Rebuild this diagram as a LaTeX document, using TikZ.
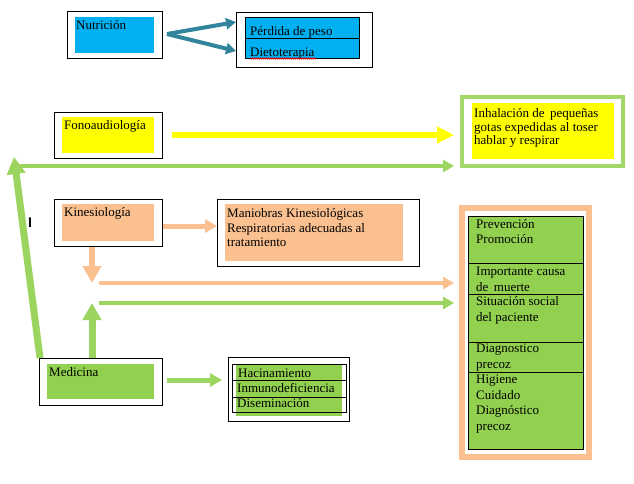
\documentclass[tikz,border=0pt]{standalone}
\usepackage{fontspec}
\setmainfont{Liberation Serif}
\newfontfamily\marksans{Liberation Sans}
\usetikzlibrary{arrows.meta,decorations.pathmorphing}
\definecolor{cyanf}{HTML}{00B0F0}
\definecolor{teal2}{HTML}{31849B}
\definecolor{grn}{HTML}{92D050}
\definecolor{grnl}{HTML}{9BD45E}
\definecolor{peach}{HTML}{FAC090}
\definecolor{yel}{HTML}{FFFF00}
\tikzset{
  outerbox/.style={draw=black, line width=0.9pt, fill=white, inner sep=0, anchor=north west},
  fillbox/.style={inner sep=0, anchor=north west, draw=none},
  txt/.style={anchor=base west, inner sep=0, font=\fontsize{13}{15.5}\selectfont},
  cell/.style={draw=black, line width=0.8pt, inner sep=0, anchor=north west},
}
\begin{document}
\begin{tikzpicture}[x=1pt,y=-1pt]
\useasboundingbox (0,0) rectangle (634,483);
\fill[white] (0,0) rectangle (634,483);

% ---------- Nutricion ----------
\node[outerbox, minimum width=95pt, minimum height=47pt] (nutO) at (67,11) {};
\node[fillbox, fill=cyanf, minimum width=79pt, minimum height=36pt] (nutF) at (75,17) {};
\node[txt] (nutT) at (76,29) {Nutrición};

\node[outerbox, minimum width=136pt, minimum height=55pt] (nrO) at (236,12) {};
\node[cell, fill=cyanf, minimum width=114pt, minimum height=21pt] (perd) at (245,17) {};
\node[cell, fill=cyanf, minimum width=114pt, minimum height=20pt] (diet) at (245,38) {};
\node[txt] (perdT) at (250,35) {Pérdida de peso};
\node[txt] (dietT) at (250,56) {Dietoterapia};
\coordinate (wavS) at (250,58.5);
\coordinate (wavE) at (316,58.5);
\draw[red, line width=0.5pt, decorate, decoration={zigzag, segment length=2pt, amplitude=0.7pt}] (wavS) -- (wavE);

\coordinate (nutS) at (167,34);
\coordinate (perdE) at (236,22);
\coordinate (dietE) at (236,51);
\draw[teal2, line width=4pt, -{Triangle[length=10pt,width=11pt]}] (nutS) -- (perdE);
\draw[teal2, line width=4pt, -{Triangle[length=10pt,width=11pt]}] (nutS) -- (dietE);

% ---------- Fonoaudiologia ----------
\node[outerbox, minimum width=108pt, minimum height=46pt] (fonO) at (54,112) {};
\node[fillbox, fill=yel, minimum width=92pt, minimum height=36pt] (fonF) at (62,117) {};
\node[txt] (fonT) at (64,129) {Fonoaudiología};

% ---------- Inhalacion box ----------
\draw[grn!85!white, line width=4pt] (462,97) rectangle (623,166);
\node[fillbox, fill=yel, minimum width=142pt, minimum height=56pt] (inhF) at (472,103) {};
\node[txt] (inh1) at (474,117) {Inhalación de\, pequeñas};
\node[txt] (inh2) at (474,131) {gotas expedidas al toser};
\node[txt] (inh3) at (474,144) {hablar y respirar};
\coordinate (inhW) at (454,135);
\coordinate (inhW2) at (454,166);

\coordinate (fonS) at (172,135);
\draw[yel, line width=6pt, -{Triangle[length=17pt,width=16pt]}] (fonS) -- (inhW);
\coordinate (grnS) at (15,166);
\draw[grnl, line width=4pt, -{Triangle[length=11pt,width=12pt]}] (grnS) -- (inhW2);

% ---------- Kinesiologia ----------
\node[outerbox, minimum width=108pt, minimum height=47pt] (kinO) at (54,199) {};
\node[fillbox, fill=peach, minimum width=92pt, minimum height=37pt] (kinF) at (62,204) {};
\node[txt] (kinT) at (64,216) {Kinesiología};

\node[outerbox, minimum width=202pt, minimum height=67pt] (manO) at (217,199) {};
\node[fillbox, fill=peach, minimum width=178pt, minimum height=57pt] (manF) at (225,204) {};
\node[txt] (man1) at (227,217) {Maniobras Kinesiológicas};
\node[txt] (man2) at (227,232) {Respiratorias adecuadas al};
\node[txt] (man3) at (227,246) {tratamiento};

\draw[peach, line width=5pt, -{Triangle[length=12pt,width=13pt]}] (kinO.east |- 0,226) -- (manO.west |- 0,226);
\coordinate (kinD) at (92,283);
\draw[peach, line width=6pt, -{Triangle[length=17pt,width=18pt]}] (kinO.south -| kinD) -- (kinD);

% stray mark
\node[anchor=base west, inner sep=0, font=\marksans\bfseries\fontsize{14}{16}\selectfont] (imark) at (28,227) {I};

% ---------- right big box ----------
\draw[peach, line width=6pt] (462,208) rectangle (589,457);
\node[cell, fill=grn, minimum width=115pt, minimum height=47pt] (r1) at (468,216) {};
\node[cell, fill=grn, minimum width=115pt, minimum height=31pt] (r2) at (468,263) {};
\node[cell, fill=grn, minimum width=115pt, minimum height=48pt] (r3) at (468,294) {};
\node[cell, fill=grn, minimum width=115pt, minimum height=30pt] (r4) at (468,342) {};
\node[cell, fill=grn, minimum width=115pt, minimum height=77pt] (r5) at (468,372) {};
\node[txt] (t1) at (476,228) {Prevención};
\node[txt] (t2) at (476,243) {Promoción};
\node[txt] (t3) at (476,275) {Importante causa};
\node[txt] (t4) at (476,291) {de\, muerte};
\node[txt] (t5) at (476,305) {Situación social};
\node[txt] (t6) at (476,321) {del paciente};
\node[txt] (t7) at (476,352) {Diagnostico};
\node[txt] (t8) at (476,368) {precoz};
\node[txt] (t9) at (476,383) {Higiene};
\node[txt] (t10) at (476,399) {Cuidado};
\node[txt] (t11) at (476,414) {Diagnóstico};
\node[txt] (t12) at (476,430) {precoz};

\coordinate (pkS) at (99,283);
\coordinate (pkE) at (454,283);
\draw[peach, line width=4pt, -{Triangle[length=11pt,width=12pt]}] (pkS) -- (pkE);
\coordinate (gmS) at (99,303);
\coordinate (gmE) at (454,303);
\draw[grnl, line width=4pt, -{Triangle[length=11pt,width=12pt]}] (gmS) -- (gmE);

% ---------- Medicina ----------
\node[outerbox, minimum width=123pt, minimum height=47pt] (medO) at (39,358) {};
\node[fillbox, fill=grn, minimum width=107pt, minimum height=35pt] (medF) at (47,364) {};
\node[txt] (medT) at (49,376) {Medicina};

\node[outerbox, minimum width=121pt, minimum height=64pt] (hacO) at (228,357) {};
\fill[grn] (236,365) rectangle (342,416);
\node[cell, minimum width=114pt, minimum height=16pt] (hac) at (232,364) {};
\node[cell, minimum width=114pt, minimum height=17pt] (inm) at (232,380) {};
\node[cell, minimum width=114pt, minimum height=15pt] (dis) at (232,397) {};
\node[txt] (hacT) at (238,377) {Hacinamiento};
\node[txt] (inmT) at (237,392) {Inmunodeficiencia};
\node[txt] (disT) at (237,407) {Diseminación};

\coordinate (medS) at (167,380);
\coordinate (hacW) at (222,380);
\draw[grnl, line width=5pt, -{Triangle[length=12pt,width=13pt]}] (medS) -- (hacW);

\coordinate (medU) at (92,303);
\draw[grnl, line width=7pt, -{Triangle[length=17pt,width=18pt]}] (medO.north -| medU) -- (medU);

\coordinate (diagS) at (40,358);
\coordinate (diagE) at (14,157);
\draw[grnl, line width=7pt, -{Triangle[length=17pt,width=18pt]}] (diagS) -- (diagE);
\end{tikzpicture}
\end{document}
